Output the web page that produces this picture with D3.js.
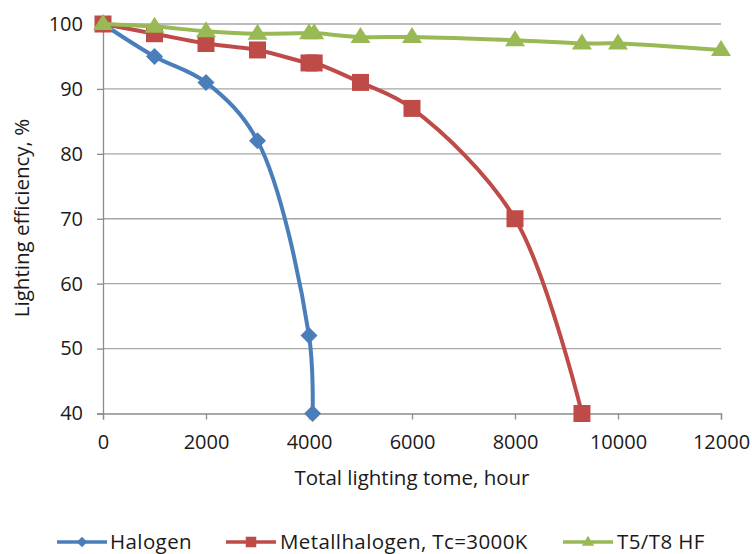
<!DOCTYPE html>
<html><head><meta charset="utf-8">
<script src="https://cdn.jsdelivr.net/npm/d3@7"></script>
<style>body{margin:0;background:#fff}svg{display:block}text{font-family:"Open Sans",sans-serif;fill:#1a1a1a}</style>
</head><body>
<script>
const xTicks = [0,2000,4000,6000,8000,10000,12000];
const yTicks = [40,50,60,70,80,90,100];
const halogenX = [0,1000,2000,3000,4000,4070];
const halogenY = [100,95,91,82,52,40];
const metalX = [0,1000,2000,3000,4000,4100,5000,6000,8000,9300];
const metalY = [100,98.5,97,96,94,94,91,87,70,40];
const t5X = [0,1000,2000,3000,4000,4100,5000,6000,8000,9300,10000,12000];
const t5Y = [100,99.6,98.9,98.5,98.6,98.6,98.0,98.0,97.5,97.0,97.0,96.0];
const seriesNames = ["Halogen","Metallhalogen, Tc=3000K","T5/T8 HF"];
const colors = ["#4a7ebb","#be4b48","#98b954"];

const W=752,H=554;
const FS=20.5;
const svg=d3.select("body").append("svg").attr("width",W).attr("height",H);
const x=d3.scaleLinear().domain([0,12000]).range([103,721]);
const y=d3.scaleLinear().domain([40,100]).range([413.5,24]);

svg.append("g").selectAll("line").data(yTicks.filter(d=>d>40)).join("line")
  .attr("x1",x(0)).attr("x2",x(12000)).attr("y1",d=>y(d)).attr("y2",d=>y(d))
  .attr("stroke","#a6a6a6").attr("stroke-width",1.3);

const xa=svg.append("g").attr("transform",`translate(0,${y(40)})`)
  .call(d3.axisBottom(x).tickValues(xTicks).tickSize(6).tickPadding(12).tickFormat(d3.format("d")));
const ya=svg.append("g").attr("transform",`translate(${x(0)},0)`)
  .call(d3.axisLeft(y).tickValues(yTicks).tickSize(6).tickPadding(14).tickFormat(d3.format("d")));
[xa,ya].forEach(a=>{
  a.selectAll("path,line").attr("stroke","#8c8c8c").attr("stroke-width",1.3);
  a.selectAll("text").attr("font-size",20).style("fill","#1a1a1a").attr("font-family","Open Sans, sans-serif");
});
xa.selectAll("text").attr("dy","0.88em");

svg.append("text").attr("x",412).attr("y",485).attr("text-anchor","middle").attr("font-size",FS)
  .text("Total lighting tome, hour");
svg.append("text").attr("transform","translate(29,218) rotate(-90)").attr("text-anchor","middle").attr("font-size",FS)
  .text("Lighting efficiency, %");

const data=[
  halogenX.map((v,i)=>[v,halogenY[i]]),
  metalX.map((v,i)=>[v,metalY[i]]),
  t5X.map((v,i)=>[v,t5Y[i]])
];
const line=d3.line().x(d=>x(d[0])).y(d=>y(d[1])).curve(d3.curveCatmullRom.alpha(0.5));

function marker(g,i,cx,cy,scale){
  if(i===0){
    const r=8.5*scale;
    g.append("path").attr("d",`M${cx},${cy-r}L${cx+r},${cy}L${cx},${cy+r}L${cx-r},${cy}Z`).attr("fill",colors[i]);
  } else if(i===1){
    const s=17*scale;
    g.append("rect").attr("x",cx-s/2).attr("y",cy-s/2).attr("width",s).attr("height",s).attr("fill",colors[i]);
  } else {
    const w=20*scale,h=16*scale;
    g.append("path").attr("d",`M${cx},${cy-h*0.62}L${cx+w/2},${cy+h*0.38}L${cx-w/2},${cy+h*0.38}Z`).attr("fill",colors[i]);
  }
}

[0,1,2].forEach(i=>{
  const g=svg.append("g");
  g.append("path").attr("d",line(data[i])).attr("fill","none")
    .attr("stroke",colors[i]).attr("stroke-width",4).attr("stroke-linejoin","round");
  data[i].forEach(d=>marker(g,i,x(d[0]),y(d[1]),1));
});

const LY=542;
const lg=[{x:57,tx:110},{x:226,tx:280},{x:563,tx:617}];
lg.forEach((l,i)=>{
  const g=svg.append("g");
  g.append("line").attr("x1",l.x).attr("x2",l.x+50).attr("y1",LY).attr("y2",LY)
    .attr("stroke",colors[i]).attr("stroke-width",3.5);
  marker(g,i,l.x+25,LY,0.62);
  g.append("text").attr("x",l.tx).attr("y",LY+7).attr("font-size",FS).attr("letter-spacing",0.4).text(seriesNames[i]);
});
</script>
</body></html>
